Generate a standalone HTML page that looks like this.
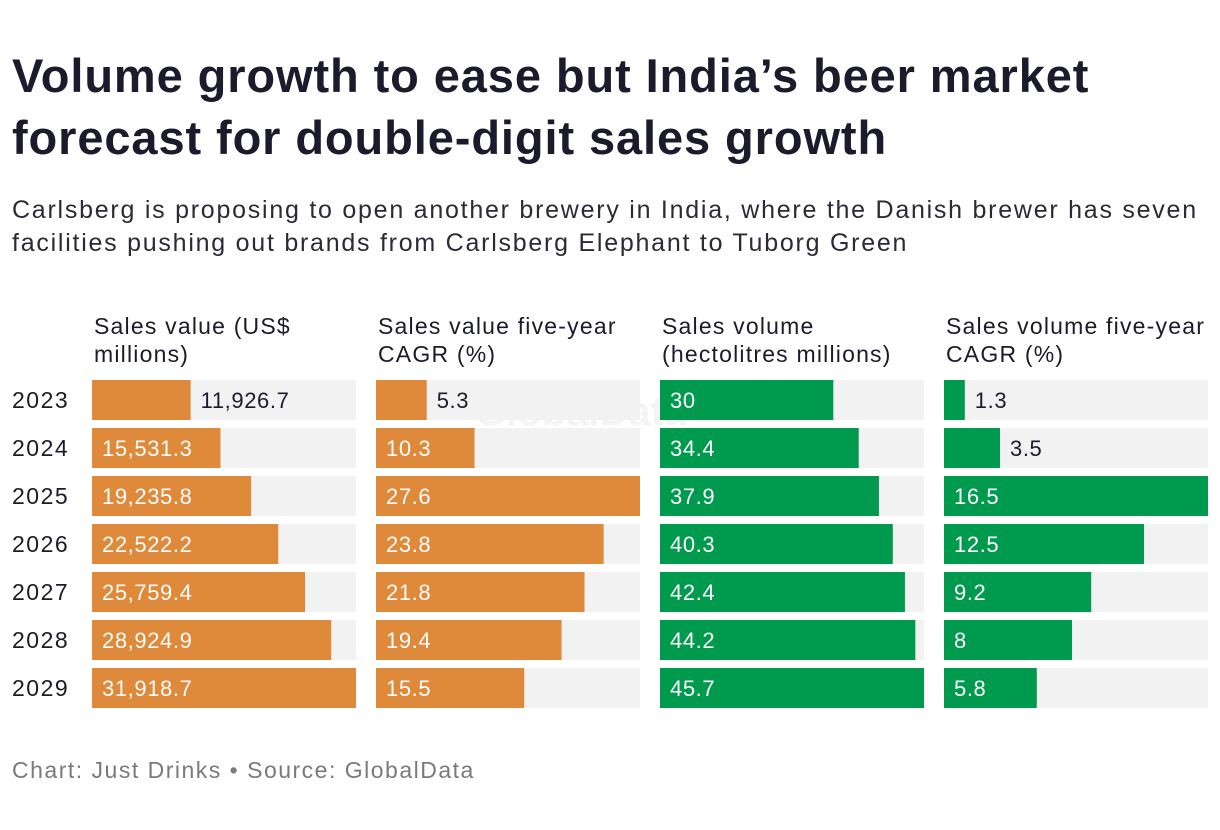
<!DOCTYPE html>
<html><head><meta charset="utf-8"><style>
body{margin:0;width:1220px;height:830px;background:#fff;font-family:"Liberation Sans",sans-serif;color:#1b1b2b;position:relative;overflow:hidden}
h1{position:absolute;left:12px;top:45px;margin:0;font-size:47px;line-height:62px;font-weight:bold;letter-spacing:0.9px}
.sub{position:absolute;left:12px;top:194px;font-size:25px;line-height:33px;color:#2a2a38;letter-spacing:1.75px;white-space:nowrap}
.foot{position:absolute;left:12px;top:757px;font-size:23px;color:#7a7a7a;letter-spacing:1.5px}
.wm{position:absolute;left:475px;top:390px;font-size:40px;font-weight:bold;color:#f4f4f4}
</style></head><body>
<div class="wm">GlobalData</div>
<h1>Volume growth to ease but India’s beer market<br>forecast for double-digit sales growth</h1>
<div class="sub">Carlsberg is proposing to open another brewery in India, where the Danish brewer has seven<br>facilities pushing out brands from Carlsberg Elephant to Tuborg Green</div>
<svg id="c" width="1220" height="830" style="position:absolute;left:0;top:0"></svg>
<div class="foot">Chart: Just Drinks • Source: GlobalData</div>
<script>
const years=["2023","2024","2025","2026","2027","2028","2029"];
const salesValue=[11926.7,15531.3,19235.8,22522.2,25759.4,28924.9,31918.7];
const salesValueLabels=["11,926.7","15,531.3","19,235.8","22,522.2","25,759.4","28,924.9","31,918.7"];
const valueCagr=[5.3,10.3,27.6,23.8,21.8,19.4,15.5];
const salesVolume=[30,34.4,37.9,40.3,42.4,44.2,45.7];
const volumeCagr=[1.3,3.5,16.5,12.5,9.2,8,5.8];
const headers=[["Sales value (US$","millions)"],["Sales value five-year","CAGR (%)"],["Sales volume","(hectolitres millions)"],["Sales volume five-year","CAGR (%)"]];
const NS="http://www.w3.org/2000/svg",svg=document.getElementById('c');
function mk(t,a,txt){const e=document.createElementNS(NS,t);for(const k in a)e.setAttribute(k,a[k]);if(txt!=null)e.textContent=txt;svg.appendChild(e);return e;}
const cols=[
 {vals:salesValue,labels:salesValueLabels,color:"#df893a",name:"sales-value"},
 {vals:valueCagr,labels:valueCagr.map(String),color:"#df893a",name:"value-cagr"},
 {vals:salesVolume,labels:salesVolume.map(String),color:"#009a4e",name:"sales-volume"},
 {vals:volumeCagr,labels:volumeCagr.map(String),color:"#009a4e",name:"volume-cagr"}];
const x0=92,colStep=284,W=264,y0=380,rowStep=48,H=40;
years.forEach((y,i)=>{const t=mk('text',{x:12,y:y0+i*rowStep+28,'font-size':23,'letter-spacing':1.5,fill:'#1b1b2b'},y);

});
cols.forEach((c,ci)=>{
 const cx=x0+ci*colStep,max=Math.max(...c.vals);
 headers[ci].forEach((h,k)=>{const t=mk('text',{x:cx+2,y:334+k*28,'font-size':23,'letter-spacing':1.2,fill:'#1b1b2b'},h);
 
 });
 c.vals.forEach((v,i)=>{
  const y=y0+i*rowStep,w=v/max*W;
  const bg=mk('rect',{x:cx,y:y,width:W,height:H,fill:'#f2f2f2'});
  
  
  const r=mk('rect',{x:cx,y:y,width:w,height:H,fill:c.color});
  
  
  const lbl=c.labels[i],tw=lbl.length*12.5+20,inside=w>tw&&w>=0.2*W;
  const t=mk('text',{x:inside?cx+10:cx+w+10,y:y+28,'font-size':22,'letter-spacing':0.6,fill:inside?'#fff':'#1b1b2b'},lbl);
  
  
 });
});
</script>
</body></html>
